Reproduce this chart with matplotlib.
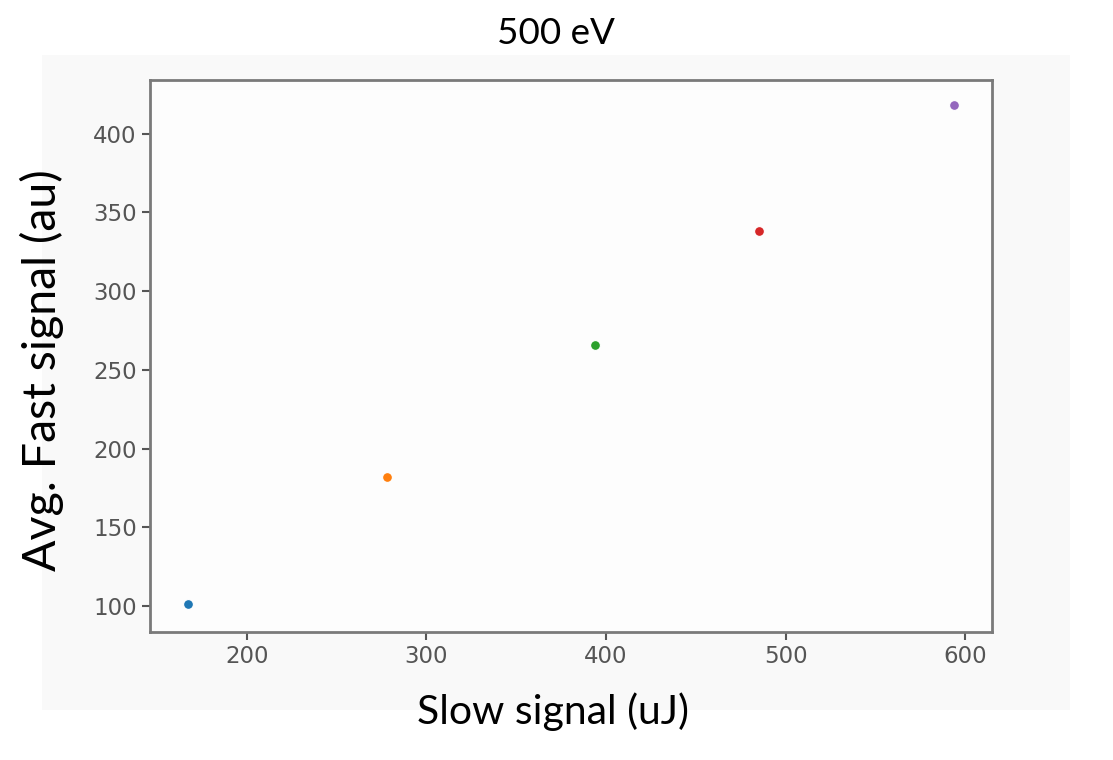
import matplotlib
matplotlib.use('Agg')
import matplotlib.pyplot as plt
import matplotlib.patches as mpatches

# data
slow_signal = [167, 278, 394, 485, 594]
fast_signal = [101, 182, 266, 338, 418]
point_colors = ['#1f77b4', '#ff7f0e', '#2ca02c', '#d62728', '#9467bd']

x_ticks = [200, 300, 400, 500, 600]
y_ticks = [100, 150, 200, 250, 300, 350, 400]


def draw():
    fig = plt.figure(figsize=(11.13, 7.6), dpi=100)
    fig.patch.set_facecolor('white')

    # light grey backdrop of the embedded plot screenshot
    back = mpatches.Rectangle((42 / 1113, 1 - 710 / 760), (1070 - 42) / 1113, (710 - 55) / 760,
                              transform=fig.transFigure, facecolor='#f9f9f9',
                              edgecolor='none', zorder=-1)
    fig.patches.append(back)

    ax = fig.add_axes([150 / 1113, 1 - 632 / 760, (992 - 150) / 1113, (632 - 80) / 760])
    ax.set_facecolor('#fdfdfd')

    for x, y, c in zip(slow_signal, fast_signal, point_colors):
        ax.scatter(x, y, s=50, color=c, edgecolor='white', linewidth=0.8, zorder=3)

    ax.set_xlim(146, 615)
    ax.set_ylim(83.5, 434)
    ax.set_xticks(x_ticks)
    ax.set_yticks(y_ticks)

    for sp in ax.spines.values():
        sp.set_color('#7a7a7a')
        sp.set_linewidth(2)
    ax.tick_params(colors='#555555', labelsize=16.5, length=6, width=1.5)

    font = ['Lato', 'DejaVu Sans']
    fig.text(556 / 1113, 1 - 34 / 760, '500 eV', ha='center', va='center',
             fontsize=26.5, family=font, color='black')
    fig.text(553 / 1113, 1 - 712 / 760, 'Slow signal (uJ)', ha='center', va='center',
             fontsize=29.5, family=font, color='black')
    fig.text(42 / 1113, 1 - 370 / 760, 'Avg. Fast signal (au)', ha='center', va='center',
             rotation=90, fontsize=33.5, family=font, color='black')

    fig.savefig('out.png', dpi=100)


if __name__ == '__main__':
    draw()
